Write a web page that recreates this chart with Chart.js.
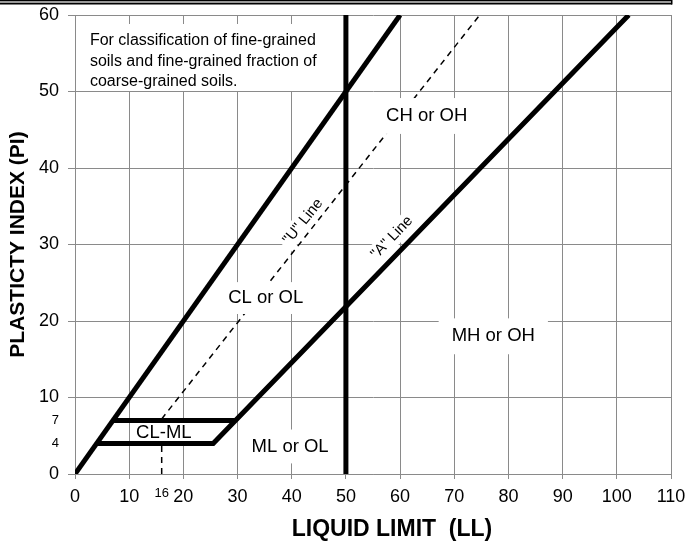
<!DOCTYPE html>
<html>
<head>
<meta charset="utf-8">
<script src="https://cdn.jsdelivr.net/npm/chart.js@4/dist/chart.umd.min.js"></script>
<style>
  body { margin: 0; background: #fff; }
  #wrap { width: 689px; height: 542px; }
</style>
</head>
<body>
<div id="wrap"><canvas id="plasticity" width="689" height="542"></canvas></div>
<script>
// plasticity chart data (LL, PI)
var xTicks = [0, 10, 16, 20, 30, 40, 50, 60, 70, 80, 90, 100, 110];
var yTicks = [0, 4, 7, 10, 20, 30, 40, 50, 60];

var upperLimitLL = [0, 60];
var upperLimitPI = [0, 60];

var llFiftyLL = [50, 50];
var llFiftyPI = [0, 60];

// bottom of CL-ML zone then "A" line
var aLineLL = [4, 25.5, 102.2];
var aLinePI = [4, 4, 60];

// top of CL-ML zone
var clmlTopLL = [7, 29.6];
var clmlTopPI = [7, 7];

// "U" line (dashed)
var uLineLL = [16, 16, 74.7];
var uLinePI = [0, 7.2, 60];

var noteLines = ["For classification of fine-grained", "soils and fine-grained fraction of", "coarse-grained soils."];

var regionLabels = [
  { text: "CH or OH", ll: 64.9, pi: 46.8, size: 18.5, rot: 0, padX: 12, padY: 11 },
  { text: "CL or OL", ll: 35.2, pi: 23.0, size: 18.5, rot: 0, padX: 10, padY: 9 },
  { text: "MH or OH", ll: 77.2, pi: 18.0, size: 18.5, rot: 0, padX: 13, padY: 11 },
  { text: "ML or OL", ll: 39.7, pi: 3.6, size: 18.5, rot: 0, padX: 8, padY: 10 },
  { text: "CL-ML", ll: 16.4, pi: 5.4, size: 18.5, rot: 0, padX: 6, padY: 5 },
  { text: "\"U\" Line", ll: 42.1, pi: 33.0, size: 15, rot: -51, padX: 4, padY: 4 },
  { text: "\"A\" Line", ll: 58.5, pi: 30.9, size: 15, rot: -46, padX: 4, padY: 4 }
];

function pts(xs, ys) {
  var out = [];
  for (var i = 0; i < xs.length; i++) out.push({ x: xs[i], y: ys[i] });
  return out;
}

var FONT = "'Liberation Sans', Arial, sans-serif";
var GRID = "#8a8a8a";

function lineSet(xs, ys, w, dash, order) {
  return {
    data: pts(xs, ys),
    showLine: true,
    borderColor: "#000",
    borderWidth: w,
    borderDash: dash || [],
    pointRadius: 0,
    fill: false,
    order: order
  };
}

function drawLabels(chart) {
  var c = chart.ctx;
  var xs = chart.scales.x, ys = chart.scales.y;
  c.save();
  c.textBaseline = "middle";

  // note box, top left
  c.fillStyle = "#fff";
  c.fillRect(xs.left + 1, 24, 262, 67);
  c.fillStyle = "#000";
  c.textAlign = "left";
  c.font = "16px " + FONT;
  var nx = xs.getPixelForValue(2.75);
  var ny = ys.getPixelForValue(56.6);
  noteLines.forEach(function(t, i) { c.fillText(t, nx, ny + i * 20.5); });

  c.textAlign = "center";
  regionLabels.forEach(function(l) {
    c.save();
    c.translate(xs.getPixelForValue(l.ll), ys.getPixelForValue(l.pi));
    c.rotate(l.rot * Math.PI / 180);
    c.font = l.size + "px " + FONT;
    var w = c.measureText(l.text).width;
    var h = l.size * 0.75;
    c.fillStyle = "#fff";
    c.fillRect(-w / 2 - l.padX, -h / 2 - l.padY, w + 2 * l.padX, h + 2 * l.padY);
    c.fillStyle = "#000";
    c.fillText(l.text, 0, 0);
    c.restore();
  });
  c.restore();
}

var textPlugin = {
  id: "chartText",
  beforeDraw: function(chart) {
    var c = chart.ctx;
    c.save();
    c.fillStyle = "#fff";
    c.fillRect(0, 0, chart.width, chart.height);
    // double rule along the top
    c.fillStyle = "#000";
    c.fillRect(0, 0, 672, 1);
    c.fillStyle = "#999";
    c.fillRect(0, 1, 672, 2);
    c.fillStyle = "#000";
    c.fillRect(0, 3, 672, 1.5);
    c.fillRect(671, 0, 1.5, 4.5);
    c.restore();
  },
  afterDatasetDraw: function(chart, args) {
    // labels sit over the dashed line but under the solid ones
    if (args.index === 4) drawLabels(chart);
  },
  afterDraw: function(chart) {
    var c = chart.ctx;
    c.save();
    c.fillStyle = "#000";
    c.textAlign = "center";
    c.textBaseline = "middle";
    c.font = "bold 23px " + FONT;
    c.fillText("LIQUID LIMIT  (LL)", 392, 530);
    c.restore();
  }
};

function gridColor(ctx) {
  if (ctx.tick && ctx.tick.value % 10 !== 0) return "rgba(0,0,0,0)";
  return GRID;
}

new Chart(document.getElementById("plasticity"), {
  type: "scatter",
  data: {
    datasets: [
      lineSet(upperLimitLL, upperLimitPI, 5, null, 1),
      lineSet(llFiftyLL, llFiftyPI, 5, null, 1),
      lineSet(aLineLL, aLinePI, 5, null, 1),
      lineSet(clmlTopLL, clmlTopPI, 5, null, 1),
      lineSet(uLineLL, uLinePI, 1.5, [6, 5], 2)
    ]
  },
  options: {
    responsive: false,
    animation: false,
    layout: { padding: { left: 0, right: 18, top: 15, bottom: 0 } },
    plugins: { legend: { display: false }, tooltip: { enabled: false } },
    scales: {
      x: {
        type: "linear",
        min: 0,
        max: 110,
        afterBuildTicks: function(s) { s.ticks = xTicks.map(function(v) { return { value: v }; }); },
        afterFit: function(s) { s.height = 68; s.paddingLeft = 0; s.paddingRight = 0; },
        grid: { color: gridColor, tickColor: gridColor, tickLength: 5, lineWidth: 1 },
        border: { color: GRID },
        ticks: {
          autoSkip: false,
          maxRotation: 0,
          padding: 7,
          color: "#000",
          font: function(ctx) {
            return { family: FONT, size: ctx.tick && ctx.tick.value === 16 ? 13 : 18 };
          }
        }
      },
      y: {
        type: "linear",
        min: 0,
        max: 60,
        afterBuildTicks: function(s) { s.ticks = yTicks.map(function(v) { return { value: v }; }); },
        afterFit: function(s) { s.width = 75; s.paddingTop = 0; s.paddingBottom = 0; },
        grid: { color: gridColor, tickColor: gridColor, tickLength: 7, lineWidth: 1 },
        border: { color: GRID },
        ticks: {
          autoSkip: false,
          padding: 9,
          color: "#000",
          font: function(ctx) {
            var v = ctx.tick ? ctx.tick.value : 0;
            return { family: FONT, size: (v === 4 || v === 7) ? 13 : 18 };
          }
        },
        title: {
          display: true,
          text: "PLASTICTY INDEX (PI)",
          color: "#000",
          padding: { top: 6, bottom: 4 },
          font: { family: FONT, size: 21, weight: "bold", lineHeight: 1.2 }
        }
      }
    }
  },
  plugins: [textPlugin]
});
</script>
</body>
</html>
